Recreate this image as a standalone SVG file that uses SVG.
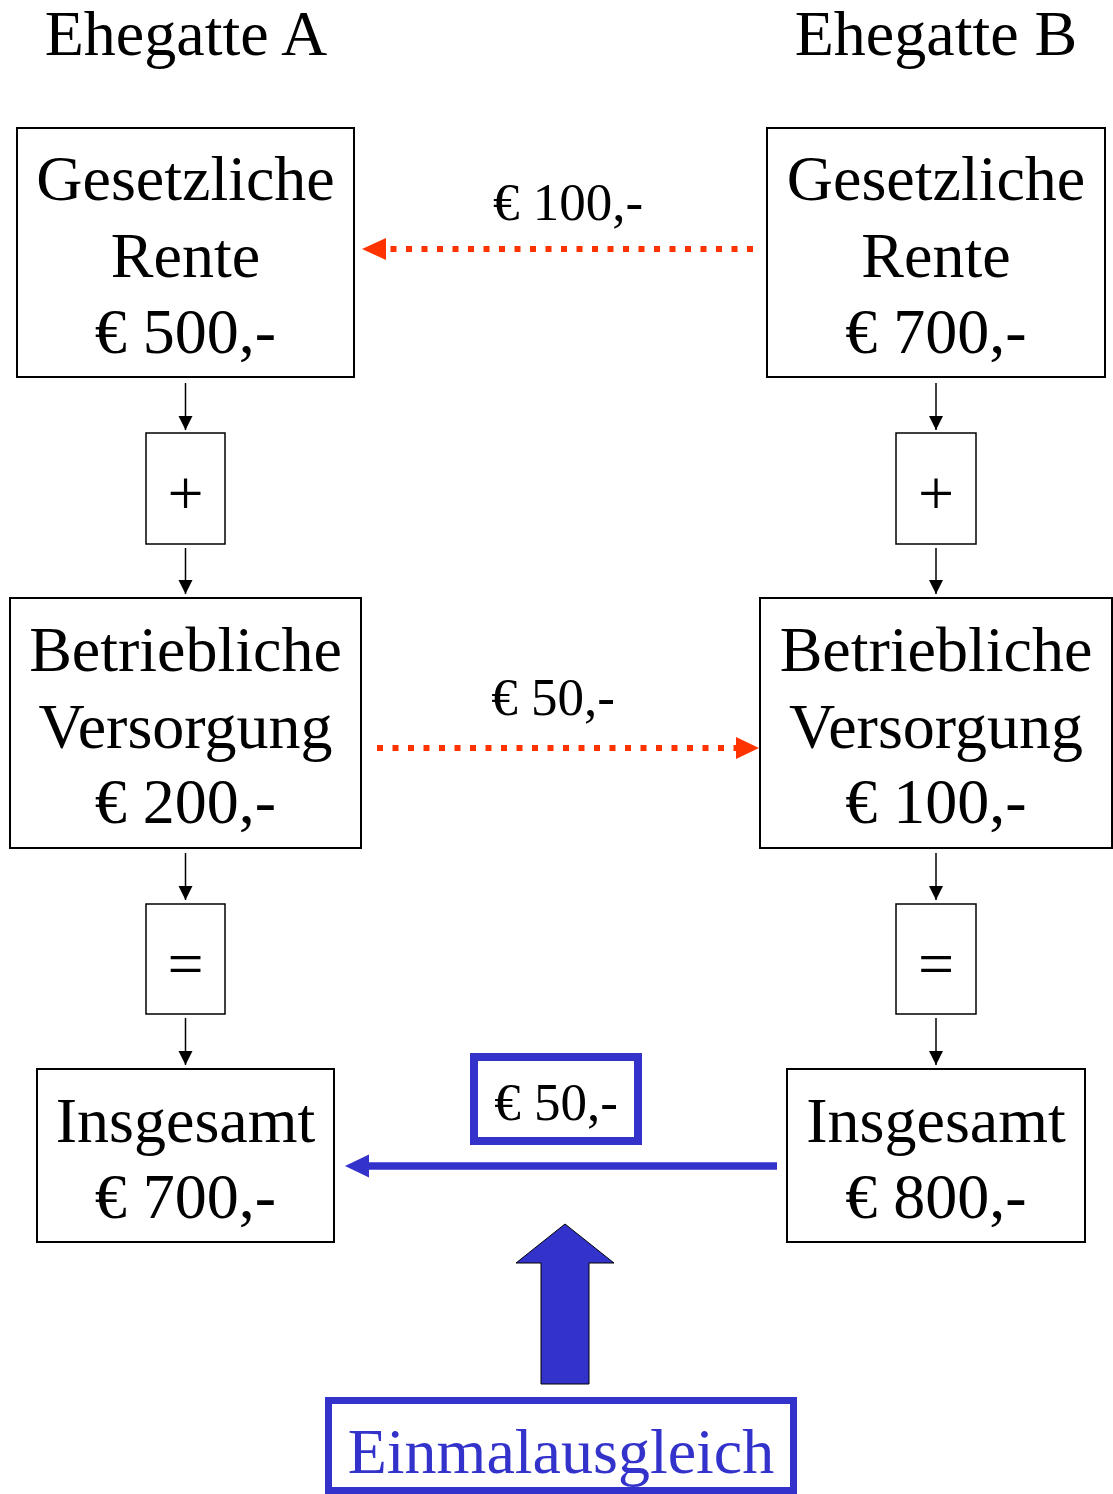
<svg xmlns="http://www.w3.org/2000/svg" width="1113" height="1494" viewBox="0 0 1113 1494">
<style>
text{font-family:"Liberation Serif","Times New Roman",serif;text-anchor:middle;fill:#000}
.big{font-size:64px}
.mid{font-size:53px}
.sym{font-size:64px}
.box{fill:#fff;stroke:#000;stroke-width:2}
.op{fill:#fff;stroke:#000;stroke-width:1.5}
.blk{stroke:#000;stroke-width:1.5;fill:none}
.red{stroke:#ff3300;stroke-width:6;stroke-dasharray:6 9.5;fill:none}
.blue{stroke:#3333cc;stroke-width:7.5;fill:none}
</style>
<defs>
<marker id="ah" markerUnits="userSpaceOnUse" markerWidth="14" markerHeight="18" refX="14" refY="9" orient="auto"><path d="M0,2 L14,9 L0,16 Z" fill="#000"/></marker>
</defs>
<g id="title-a"><text class="big" x="186" y="55">Ehegatte A</text></g>
<g id="title-b"><text class="big" x="936" y="55">Ehegatte B</text></g>
<g id="a1"><rect class="box" x="17" y="128" width="337" height="249"/><text class="big" x="185.5" y="200">Gesetzliche</text><text class="big" x="185.5" y="277">Rente</text><text class="big" x="185.5" y="353">€ 500,-</text></g>
<g id="b1"><rect class="box" x="767" y="128" width="338" height="249"/><text class="big" x="936" y="200">Gesetzliche</text><text class="big" x="936" y="277">Rente</text><text class="big" x="936" y="353">€ 700,-</text></g>
<g id="a-plus"><rect class="op" x="146" y="433" width="79" height="111"/><text class="sym" x="185.5" y="515">+</text></g>
<g id="b-plus"><rect class="op" x="896" y="433" width="80" height="111"/><text class="sym" x="936" y="515">+</text></g>
<g id="a2"><rect class="box" x="10" y="598" width="351" height="250"/><text class="big" x="185.5" y="671">Betriebliche</text><text class="big" x="185.5" y="748">Versorgung</text><text class="big" x="185.5" y="823">€ 200,-</text></g>
<g id="b2"><rect class="box" x="760" y="598" width="352" height="250"/><text class="big" x="936" y="671">Betriebliche</text><text class="big" x="936" y="748">Versorgung</text><text class="big" x="936" y="823">€ 100,-</text></g>
<g id="a-eq"><rect class="op" x="146" y="904" width="79" height="110"/><text class="sym" x="185.5" y="985">=</text></g>
<g id="b-eq"><rect class="op" x="896" y="904" width="80" height="110"/><text class="sym" x="936" y="985">=</text></g>
<g id="a3"><rect class="box" x="37" y="1069" width="297" height="173"/><text class="big" x="185.5" y="1142">Insgesamt</text><text class="big" x="185.5" y="1218">€ 700,-</text></g>
<g id="b3"><rect class="box" x="787" y="1069" width="298" height="173"/><text class="big" x="936" y="1142">Insgesamt</text><text class="big" x="936" y="1218">€ 800,-</text></g>
<g id="label-100"><text class="mid" x="568" y="220">€ 100,-</text></g>
<g id="label-50"><text class="mid" x="553" y="715">€ 50,-</text></g>
<g id="label-50b"><rect x="474" y="1057" width="164" height="84" fill="#fff" stroke="#3333cc" stroke-width="8"/><text class="mid" x="556" y="1120">€ 50,-</text></g>
<g id="einmal"><rect x="328.5" y="1400.5" width="465" height="90" fill="#fff" stroke="#3333cc" stroke-width="7"/><text class="big" x="561" y="1473" style="fill:#3333cc">Einmalausgleich</text></g>
<g id="connectors">
<line class="blk" x1="185.5" y1="383" x2="185.5" y2="430" marker-end="url(#ah)"/>
<line class="blk" x1="185.5" y1="548" x2="185.5" y2="594" marker-end="url(#ah)"/>
<line class="blk" x1="185.5" y1="853" x2="185.5" y2="900" marker-end="url(#ah)"/>
<line class="blk" x1="185.5" y1="1018" x2="185.5" y2="1065" marker-end="url(#ah)"/>
<line class="blk" x1="936" y1="383" x2="936" y2="430" marker-end="url(#ah)"/>
<line class="blk" x1="936" y1="548" x2="936" y2="594" marker-end="url(#ah)"/>
<line class="blk" x1="936" y1="853" x2="936" y2="900" marker-end="url(#ah)"/>
<line class="blk" x1="936" y1="1018" x2="936" y2="1065" marker-end="url(#ah)"/>
<line class="red" x1="753" y1="249" x2="386" y2="249"/>
<path d="M362,249 L386,238 L386,260 Z" fill="#ff3300"/>
<line class="red" x1="377" y1="748" x2="736" y2="748"/>
<path d="M759,748 L736,737 L736,759 Z" fill="#ff3300"/>
<line class="blue" x1="777" y1="1166" x2="368" y2="1166"/>
<path d="M345,1166 L369,1154.5 L369,1177.5 Z" fill="#3333cc"/>
<path d="M565,1224 L614,1263 L589,1263 L589,1384 L541,1384 L541,1263 L516,1263 Z" fill="#3333cc" stroke="#000" stroke-width="1"/>
</g>
</svg>
